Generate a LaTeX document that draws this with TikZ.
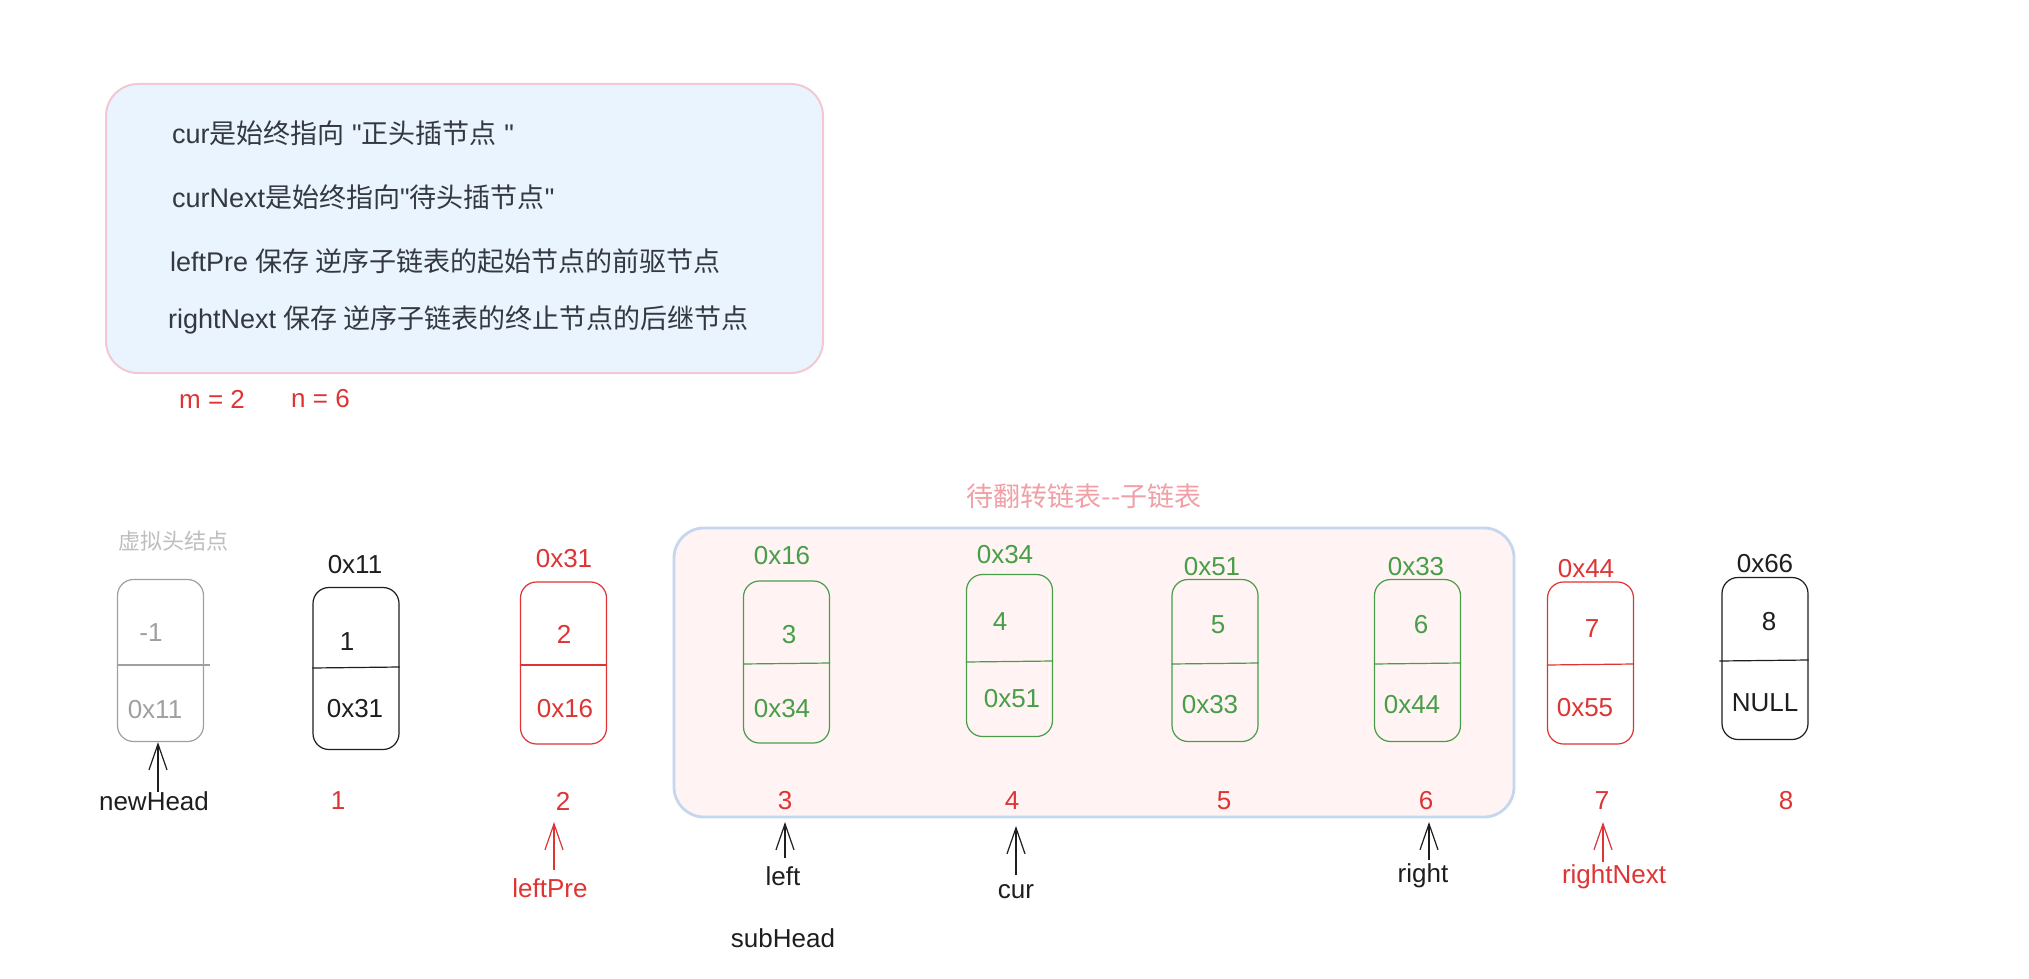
\documentclass[tikz,border=0pt]{standalone}
\usepackage{fontspec}
\setmainfont{Liberation Sans}[Ligatures=TeXOff]
\newfontfamily\cjk{Noto Sans CJK SC}
\usetikzlibrary{arrows.meta}
\definecolor{rd}{RGB}{222,52,52}
\definecolor{gn}{RGB}{72,158,72}
\definecolor{gy}{RGB}{160,160,160}
\definecolor{bk}{RGB}{30,30,30}
\definecolor{infofill}{RGB}{234,244,254}
\definecolor{infodraw}{RGB}{243,200,208}
\definecolor{subfill}{RGB}{255,243,243}
\definecolor{subdraw}{RGB}{196,215,238}
\definecolor{ttl}{RGB}{240,160,166}
\definecolor{txt}{RGB}{52,56,64}
\definecolor{lgy}{RGB}{190,190,190}
\begin{document}
\begin{tikzpicture}[x=1pt,y=-1pt,
 lnode/.style={draw, rounded corners=16pt, minimum width=86pt, minimum height=162pt, inner sep=0pt, line width=1.2pt},
 tx/.style={font=\fontsize{26}{30}\selectfont, inner sep=0pt},
 info/.style={font=\fontsize{27}{32}\selectfont, inner sep=0pt, anchor=west, text=txt},
 ptr/.style={-{Straight Barb[length=26pt,width=18pt]}, line width=1.2pt},
]
\useasboundingbox[fill=white] (0,0) rectangle (2029,979);

% info box
\node[draw=infodraw, fill=infofill, line width=2pt, rounded corners=32pt,
      minimum width=717pt, minimum height=289pt, inner sep=0pt] (infobox) at (464.5,228.5) {};
\node[info] (i1) at (172,133) {cur{\cjk 是始终指向} "{\cjk 正头插节点} "};
\node[info] (i2) at (172,197) {curNext{\cjk 是始终指向}"{\cjk 待头插节点}"};
\node[info] (i3) at (170,261) {leftPre {\cjk 保存 逆序子链表的起始节点的前驱节点}};
\node[info] (i4) at (168,320) {rightNext {\cjk 保存 逆序子链表的终止节点的后继节点}};
\node[tx, text=rd, anchor=west] (mv) at (179,399) {m = 2};
\node[tx, text=rd, anchor=west] (nv) at (291,399) {n = 6};

% sublist box
\node[draw=subdraw, fill=subfill, line width=2.8pt, rounded corners=30pt,
      minimum width=840pt, minimum height=289pt, inner sep=0pt] (subbox) at (1094,672.5) {};
\node[font=\fontsize{27}{32}\selectfont\cjk, text=ttl, inner sep=0pt] (title) at (1084,496) {待翻转链表--子链表};

% node 0 (virtual head)
\node[lnode, draw=gy] (n0) at (160.5,660.5) {};
\draw[gy, line width=1.2pt] (n0.west |- 0,665) -- ([xshift=6pt]n0.east |- 0,665);
\node[tx, text=gy] (v0) at (151,633) {-1};
\node[tx, text=gy] (p0) at (155,710) {0x11};
\node[font=\fontsize{22}{26}\selectfont\cjk, text=lgy, inner sep=0pt] (a0) at (173,541) {虚拟头结点};

% node 1
\node[lnode, draw=bk] (n1) at (356,668.5) {};
\draw[bk, line width=1.2pt] (n1.west |- 0,668) -- (n1.east |- 0,667);
\node[tx, text=bk] (v1) at (347,642) {1};
\node[tx, text=bk] (p1) at (355,709) {0x31};
\node[tx, text=bk] (a1) at (355,565) {0x11};

% node 2
\node[lnode, draw=rd] (n2) at (563.5,663) {};
\draw[rd, line width=1.2pt] (n2.west |- 0,665) -- (n2.east |- 0,665);
\node[tx, text=rd] (v2) at (564,634) {2};
\node[tx, text=rd] (p2) at (565,709) {0x16};
\node[tx, text=rd] (a2) at (564,559) {0x31};

% node 3
\node[lnode, draw=gn] (n3) at (786.5,662) {};
\draw[gn, line width=1.2pt] (n3.west |- 0,664) -- (n3.east |- 0,663);
\node[tx, text=gn] (v3) at (789,635) {3};
\node[tx, text=gn] (p3) at (782,709) {0x34};
\node[tx, text=gn] (a3) at (782,556) {0x16};

% node 4
\node[lnode, draw=gn] (n4) at (1009.5,655.5) {};
\draw[gn, line width=1.2pt] (n4.west |- 0,662) -- (n4.east |- 0,661);
\node[tx, text=gn] (v4) at (1000,622) {4};
\node[tx, text=gn] (p4) at (1012,699) {0x51};
\node[tx, text=gn] (a4) at (1005,555) {0x34};

% node 5
\node[lnode, draw=gn] (n5) at (1215,660.5) {};
\draw[gn, line width=1.2pt] (n5.west |- 0,664) -- (n5.east |- 0,663);
\node[tx, text=gn] (v5) at (1218,625) {5};
\node[tx, text=gn] (p5) at (1210,705) {0x33};
\node[tx, text=gn] (a5) at (1212,567) {0x51};

% node 6
\node[lnode, draw=gn] (n6) at (1417.5,660.5) {};
\draw[gn, line width=1.2pt] (n6.west |- 0,664) -- (n6.east |- 0,663);
\node[tx, text=gn] (v6) at (1421,625) {6};
\node[tx, text=gn] (p6) at (1412,705) {0x44};
\node[tx, text=gn] (a6) at (1416,567) {0x33};

% node 7
\node[lnode, draw=rd] (n7) at (1590.5,663) {};
\draw[rd, line width=1.2pt] (n7.west |- 0,665) -- (n7.east |- 0,664);
\node[tx, text=rd] (v7) at (1592,629) {7};
\node[tx, text=rd] (p7) at (1585,708) {0x55};
\node[tx, text=rd] (a7) at (1586,569) {0x44};

% node 8
\node[lnode, draw=bk] (n8) at (1765,658.5) {};
\draw[bk, line width=1.2pt] ([xshift=-2pt]n8.west |- 0,661) -- (n8.east |- 0,660);
\node[tx, text=bk] (v8) at (1769,622) {8};
\node[tx, text=bk] (p8) at (1765,703) {NULL};
\node[tx, text=bk] (a8) at (1765,564) {0x66};

% index labels
\node[tx, text=rd] (k1) at (338,801) {1};
\node[tx, text=rd] (k2) at (563,801) {2};
\node[tx, text=rd] (k3) at (785,801) {3};
\node[tx, text=rd] (k4) at (1012,801) {4};
\node[tx, text=rd] (k5) at (1224,801) {5};
\node[tx, text=rd] (k6) at (1426,801) {6};
\node[tx, text=rd] (k7) at (1602,801) {7};
\node[tx, text=rd] (k8) at (1786,801) {8};

% pointer labels
\node[tx, text=bk] (newHead) at (154,801) {newHead};
\node[tx, text=rd] (leftPre) at (550,888) {leftPre};
\node[tx, text=bk] (left) at (783,876) {left};
\node[tx, text=bk] (subHead) at (783,938) {subHead};
\node[tx, text=bk] (cur) at (1016,892) {cur};
\node[tx, text=bk] (right) at (1423,876) {right};
\node[tx, text=rd] (rightNext) at (1614,877) {rightNext};

% pointer arrows
\coordinate (s0) at (158,792);
\draw[ptr, bk] (s0) -- (s0 |- n0.south);
\coordinate (s1) at (554,870);
\coordinate (e1) at (554,822);
\draw[ptr, rd] (s1) -- (e1);
\coordinate (s2) at (785,858);
\coordinate (e2) at (785,822);
\draw[ptr, bk] (s2) -- (e2);
\coordinate (s3) at (1016,875);
\coordinate (e3) at (1016,826);
\draw[ptr, bk] (s3) -- (e3);
\coordinate (s4) at (1429,860);
\coordinate (e4) at (1429,822);
\draw[ptr, bk] (s4) -- (e4);
\coordinate (s5) at (1603,862);
\coordinate (e5) at (1603,822);
\draw[ptr, rd] (s5) -- (e5);
\end{tikzpicture}
\end{document}
